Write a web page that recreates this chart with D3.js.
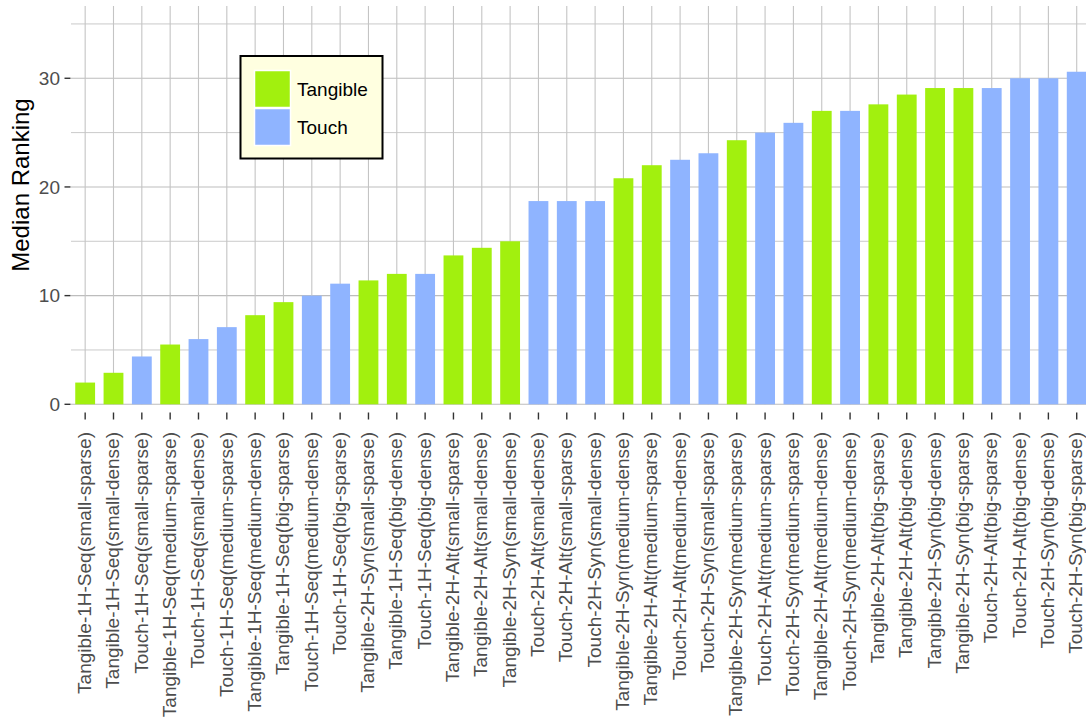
<!DOCTYPE html>
<html>
<head>
<meta charset="utf-8">
<script src="https://cdn.jsdelivr.net/npm/d3@7"></script>
<style>
  html, body { margin: 0; padding: 0; background: #ffffff; }
  svg { display: block; font-family: "Liberation Sans", Arial, sans-serif; }
</style>
</head>
<body>
<svg id="chart" width="1086" height="724"></svg>
<script>
const categories = [
  "Tangible-1H-Seq(small-sparse)", "Tangible-1H-Seq(small-dense)", "Touch-1H-Seq(small-sparse)",
  "Tangible-1H-Seq(medium-sparse)", "Touch-1H-Seq(small-dense)", "Touch-1H-Seq(medium-sparse)",
  "Tangible-1H-Seq(medium-dense)", "Tangible-1H-Seq(big-sparse)", "Touch-1H-Seq(medium-dense)",
  "Touch-1H-Seq(big-sparse)", "Tangible-2H-Syn(small-sparse)", "Tangible-1H-Seq(big-dense)",
  "Touch-1H-Seq(big-dense)", "Tangible-2H-Alt(small-sparse)", "Tangible-2H-Alt(small-dense)",
  "Tangible-2H-Syn(small-dense)", "Touch-2H-Alt(small-dense)", "Touch-2H-Alt(small-sparse)",
  "Touch-2H-Syn(small-dense)", "Tangible-2H-Syn(medium-dense)", "Tangible-2H-Alt(medium-sparse)",
  "Touch-2H-Alt(medium-dense)", "Touch-2H-Syn(small-sparse)", "Tangible-2H-Syn(medium-sparse)",
  "Touch-2H-Alt(medium-sparse)", "Touch-2H-Syn(medium-sparse)", "Tangible-2H-Alt(medium-dense)",
  "Touch-2H-Syn(medium-dense)", "Tangible-2H-Alt(big-sparse)", "Tangible-2H-Alt(big-dense)",
  "Tangible-2H-Syn(big-dense)", "Tangible-2H-Syn(big-sparse)", "Touch-2H-Alt(big-sparse)",
  "Touch-2H-Alt(big-dense)", "Touch-2H-Syn(big-dense)", "Touch-2H-Syn(big-sparse)"
];
const medianRanking = [
  2.0, 2.9, 4.4, 5.5, 6.0, 7.1, 8.2, 9.4, 10.0, 11.1, 11.4, 12.0,
  12.0, 13.7, 14.4, 15.0, 18.7, 18.7, 18.7, 20.8, 22.0, 22.5, 23.1, 24.3,
  25.0, 25.9, 27.0, 27.0, 27.6, 28.5, 29.1, 29.1, 29.1, 30.0, 30.0, 30.6
];
const interfaceTypes = ["Tangible", "Touch"];
const interfaceColors = ["#a2f00e", "#8fb4ff"];
const yMajorTicks = [0, 10, 20, 30];
const yMinorTicks = [5, 15, 25, 35];
const yTitle = "Median Ranking";

const svg = d3.select("#chart");
const panel = { left: 71, top: 6, bottom: 404.3, right: 1086 };
const step = 28.33;

const x = d3.scaleBand()
  .domain(categories)
  .range([panel.left, panel.left + categories.length * step])
  .paddingInner(0.3)
  .paddingOuter(0.15);
const y = d3.scaleLinear().domain([0, 36.65]).range([panel.bottom, panel.top]);
const color = d3.scaleOrdinal().domain(interfaceTypes).range(interfaceColors);
const typeOf = c => c.split("-")[0];

const clip = svg.append("defs").append("clipPath").attr("id", "pclip")
  .append("rect").attr("x", panel.left).attr("y", panel.top)
  .attr("width", panel.right - panel.left).attr("height", panel.bottom - panel.top + 1);

const grid = svg.append("g").attr("clip-path", "url(#pclip)");
grid.selectAll("line.hmin").data(yMinorTicks).join("line")
  .attr("x1", panel.left).attr("x2", panel.right)
  .attr("y1", d => y(d)).attr("y2", d => y(d))
  .attr("stroke", "#c4c4c4").attr("stroke-width", 0.9);
grid.selectAll("line.hmaj").data(yMajorTicks).join("line")
  .attr("x1", panel.left).attr("x2", panel.right)
  .attr("y1", d => y(d)).attr("y2", d => y(d))
  .attr("stroke", "#bdbdbd").attr("stroke-width", 1.1);
grid.selectAll("line.v").data(categories).join("line")
  .attr("x1", d => x(d) + x.bandwidth() / 2).attr("x2", d => x(d) + x.bandwidth() / 2)
  .attr("y1", panel.top).attr("y2", panel.bottom)
  .attr("stroke", "#c4c4c4").attr("stroke-width", 1.1);

const bars = svg.append("g").attr("clip-path", "url(#pclip)");
bars.selectAll("rect").data(categories).join("rect")
  .attr("x", d => x(d))
  .attr("width", x.bandwidth())
  .attr("y", (d, i) => y(medianRanking[i]))
  .attr("height", (d, i) => y(0) - y(medianRanking[i]))
  .attr("fill", d => color(typeOf(d)));

// Y axis
const yAxis = svg.append("g");
yAxis.selectAll("line").data(yMajorTicks).join("line")
  .attr("x1", 64.5).attr("x2", 70.5)
  .attr("y1", d => y(d)).attr("y2", d => y(d))
  .attr("stroke", "#333333").attr("stroke-width", 1.4);
yAxis.selectAll("text").data(yMajorTicks).join("text")
  .attr("x", 60).attr("y", d => y(d)).attr("dy", "0.36em")
  .attr("text-anchor", "end").attr("font-size", 19).attr("fill", "#4d4d4d")
  .text(d => d);

// X axis
const xAxis = svg.append("g");
xAxis.selectAll("line").data(categories).join("line")
  .attr("x1", d => x(d) + x.bandwidth() / 2).attr("x2", d => x(d) + x.bandwidth() / 2)
  .attr("y1", 412.5).attr("y2", 419.5)
  .attr("stroke", "#333333").attr("stroke-width", 1.4);
xAxis.selectAll("text").data(categories).join("text")
  .attr("transform", d => `translate(${x(d) + x.bandwidth() / 2},432) rotate(-90)`)
  .attr("dy", "0.3em")
  .attr("text-anchor", "end").attr("font-size", 19).attr("fill", "#4d4d4d")
  .text(d => d);

// Y title
svg.append("text")
  .attr("transform", `translate(28.5,185) rotate(-90)`)
  .attr("text-anchor", "middle").attr("font-size", 24).attr("fill", "#000")
  .text(yTitle);

// Legend
const lg = svg.append("g");
lg.append("rect").attr("x", 240.5).attr("y", 56).attr("width", 142).attr("height", 102.5)
  .attr("fill", "#ffffe0").attr("stroke", "#000").attr("stroke-width", 2);
const items = lg.selectAll("g.item").data(interfaceTypes).join("g")
  .attr("transform", (d, i) => `translate(0,${i * 38})`);
items.append("rect").attr("x", 254.5).attr("y", 70.5).attr("width", 36).attr("height", 37)
  .attr("fill", d => color(d)).attr("stroke", "#ffffff").attr("stroke-width", 1.5);
items.append("text").attr("x", 297).attr("y", 89.5).attr("dy", "0.36em")
  .attr("font-size", 19).attr("fill", "#000").text(d => d);
</script>
</body>
</html>
